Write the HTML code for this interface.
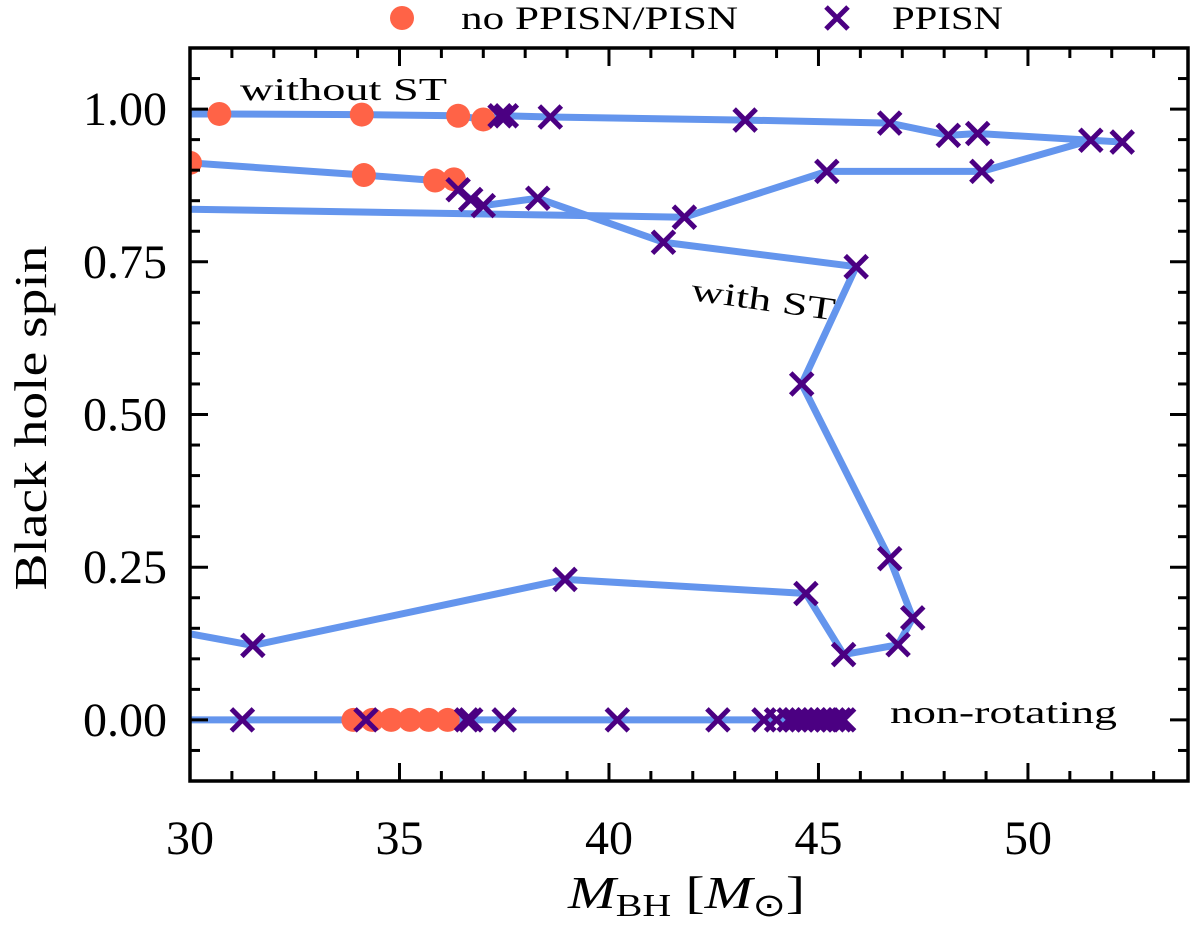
<!DOCTYPE html>
<html><head><meta charset="utf-8"><style>
body{margin:0;background:#fff;width:1200px;height:925px;overflow:hidden}
svg text{font-family:"Liberation Serif",serif;fill:#000}
</style></head><body>
<svg id="chart" width="1200" height="925" viewBox="0 0 1200 925" xmlns="http://www.w3.org/2000/svg">
<g id="marks"></g>
<g id="axes"></g>
</svg>
<script>
const xTicks=[30,35,40,45,50];
const yTicks=[0,0.25,0.5,0.75,1.0];
const yTickLabels=["0.00","0.25","0.50","0.75","1.00"];
// without ST
const noRotX=[30,30.7,34.1,36.4,37.0,37.4,37.55,38.6,43.25,46.7,48.1,48.8,51.5,52.25];
const noRotY=[0.992,0.992,0.991,0.989,0.983,0.989,0.989,0.987,0.982,0.977,0.957,0.96,0.949,0.946];
const noRotType=["n","c","c","c","c","x","x","x","x","x","x","x","x","x"];
// returning branch
const retX=[51.5,48.9,45.2,41.8,30];
const retY=[0.949,0.898,0.898,0.823,0.836];
const retType=["n","x","x","x","n"];
// with ST
const stX=[30,34.15,35.85,36.3,36.4,36.7,37.0,38.3,41.3,45.9,44.6,46.7,47.25,46.9,45.6,44.7,38.95,31.5,30];
const stY=[0.912,0.892,0.883,0.885,0.868,0.852,0.842,0.854,0.782,0.742,0.55,0.264,0.167,0.123,0.107,0.207,0.23,0.122,0.141];
const stType=["c","c","c","c","x","x","x","x","x","x","x","x","x","x","x","x","x","x","n"];
// non-rotating
const zeroCircX=[33.9,34.35,34.8,35.25,35.7,36.15];
const zeroCrossX=[31.25,34.2,36.6,36.7,37.5,40.2,42.6,43.7,44.0,44.3,44.45,44.6,44.75,44.9,45.05,45.2,45.35,45.5,45.6];
const zeroLineX=[30,45.6];

const L=190,R=1188,T=48,B=781;
const xmin=30,xmax=53.82,ymin=-0.1,ymax=1.1;
const sx=v=>L+(v-xmin)/(xmax-xmin)*(R-L);
const sy=v=>B-(v-ymin)/(ymax-ymin)*(B-T);
const NS="http://www.w3.org/2000/svg";
const marks=document.getElementById('marks'),axes=document.getElementById('axes');
function mk(tag,attrs,parent){const e=document.createElementNS(NS,tag);for(const k in attrs)e.setAttribute(k,attrs[k]);parent.appendChild(e);return e;}
const cp=mk('clipPath',{id:'clip'},marks);mk('rect',{x:L,y:T,width:R-L,height:B-T},cp);
const g=mk('g',{'clip-path':'url(#clip)'},marks);
function line(xs,ys,name){const p=mk('polyline',{points:xs.map((x,i)=>sx(x)+','+sy(ys[i])).join(' '),fill:'none',stroke:'#6495ED','stroke-width':7,'stroke-linejoin':'round'},g);

}
function circ(x,y){const c=mk('circle',{cx:sx(x),cy:sy(y),r:12,fill:'#FF6347'},g);

}
function cross(x,y){const X=sx(x),Y=sy(y);const s=11;
const p=mk('path',{d:`M${X-s},${Y-s}L${X+s},${Y+s}M${X-s},${Y+s}L${X+s},${Y-s}`,stroke:'#4B0082','stroke-width':5,fill:'none'},g);

}
line(noRotX,noRotY,'without-st-line');
line(retX,retY,'return-branch-line');
line(stX,stY,'with-st-line');
line(zeroLineX,[0,0],'non-rotating-line');
function pts(xs,ys,ts){xs.forEach((x,i)=>{if(ts[i]==='c')circ(x,ys[i]);});xs.forEach((x,i)=>{if(ts[i]==='x')cross(x,ys[i]);});}
pts(noRotX,noRotY,noRotType);pts(retX,retY,retType);pts(stX,stY,stType);
zeroCircX.forEach(x=>circ(x,0));zeroCrossX.forEach(x=>cross(x,0));

const fr=mk('rect',{x:L,y:T,width:R-L,height:B-T,fill:'none',stroke:'#000','stroke-width':3.5},axes);


for(let v=30;v<=53;v++){const major=v%5===0;const len=major?18:10;const X=sx(v);
mk('line',{x1:X,y1:B,x2:X,y2:B-len,stroke:'#000','stroke-width':3},axes);
mk('line',{x1:X,y1:T,x2:X,y2:T+len,stroke:'#000','stroke-width':3},axes);}
for(let k=-2;k<=22;k++){const v=k*0.05;const major=k%5===0;const len=major?18:10;const Y=sy(v);
mk('line',{x1:L,y1:Y,x2:L+len,y2:Y,stroke:'#000','stroke-width':3},axes);
mk('line',{x1:R,y1:Y,x2:R-len,y2:Y,stroke:'#000','stroke-width':3},axes);}
xTicks.forEach(v=>{const t=mk('text',{x:sx(v),y:854,'font-size':48,'text-anchor':'middle'},axes);t.textContent=v;

});
yTicks.forEach((v,i)=>{const t=mk('text',{x:167,y:sy(v)+16,'font-size':48,'text-anchor':'end'},axes);t.textContent=yTickLabels[i];

});
</script>
<svg style="position:absolute;left:0;top:0" width="1200" height="925">
<text x="568" y="908" font-size="46" textLength="237" lengthAdjust="spacingAndGlyphs"><tspan font-style="italic">M</tspan><tspan font-size="32" dy="8">BH</tspan><tspan dy="-8"> [</tspan><tspan font-style="italic">M</tspan><tspan font-size="32" dy="8">⊙</tspan><tspan dy="-8">]</tspan></text>
<text transform="translate(46,418) rotate(-90)" font-size="46" text-anchor="middle" textLength="345" lengthAdjust="spacingAndGlyphs">Black hole spin</text>
<text x="240" y="100" font-size="32" textLength="207" lengthAdjust="spacingAndGlyphs">without ST</text>
<text transform="translate(690,300) rotate(8)" font-size="32" textLength="145" lengthAdjust="spacingAndGlyphs">with ST</text>
<text x="890" y="723" font-size="32" textLength="227" lengthAdjust="spacingAndGlyphs">non-rotating</text>
<g>
<circle cx="402" cy="18" r="12" fill="#FF6347"/>
<text x="461" y="29" font-size="33" textLength="277" lengthAdjust="spacingAndGlyphs">no PPISN/PISN</text>
<path d="M826,7L848,29M826,29L848,7" stroke="#4B0082" stroke-width="5"/>
<text x="892" y="29" font-size="33" textLength="111" lengthAdjust="spacingAndGlyphs">PPISN</text>
</g>
</svg>
</body></html>
